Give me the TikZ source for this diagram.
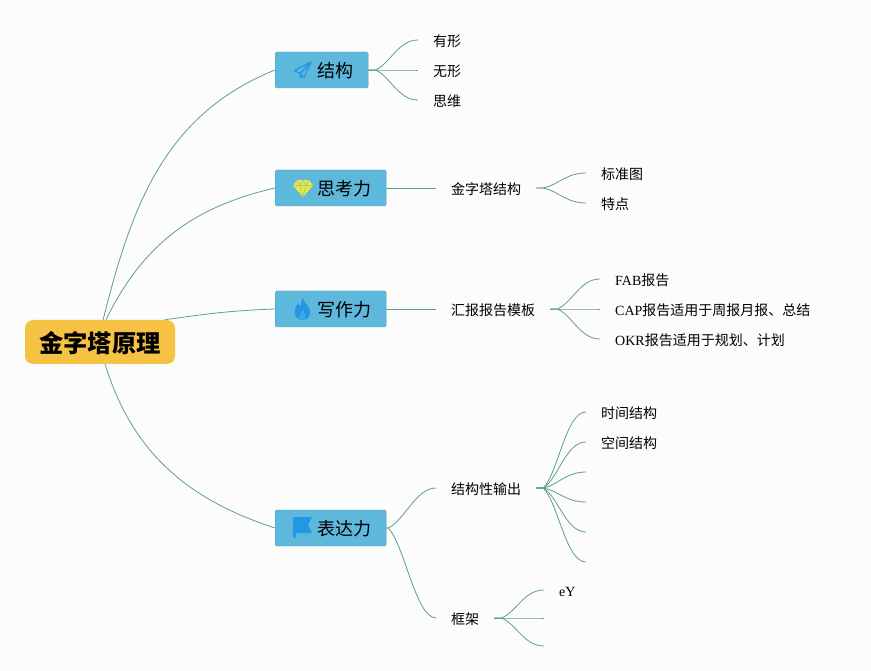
\documentclass[tikz,border=0pt]{standalone}
\usepackage{fontspec}
\setmainfont{Liberation Serif}
\newfontfamily\cjk{Noto Sans CJK SC}
\usepackage{xcolor}
\usetikzlibrary{calc}
\usetikzlibrary{positioning}
\definecolor{rootfill}{HTML}{F6C244}
\definecolor{boxfill}{HTML}{5DB8DC}
\definecolor{boxline}{HTML}{4E9FA8}
\definecolor{linkcol}{HTML}{5F9F8E}
\definecolor{iconblue}{HTML}{2298E4}
\definecolor{iconyellow}{HTML}{EDE83C}
\definecolor{paper}{HTML}{FCFCFC}
\tikzset{>=latex}
\tikzstyle{root} = [rectangle, rounded corners=8, fill=rootfill, minimum width=150, minimum height=44, inner sep=0, text height=26, text depth=5.6, font=\cjk\fontsize{24.3}{24}\selectfont\bfseries]
\tikzstyle{branch} = [rectangle, rounded corners=1.5, draw=boxline, fill=boxfill, anchor=west, minimum height=36, inner xsep=15, inner ysep=0, text height=18.8, text depth=3, font=\cjk\fontsize{18}{18}\selectfont]
\tikzstyle{topic} = [draw=none, anchor=west, inner xsep=15, inner ysep=2, text height=15.6, text depth=3, font=\cjk\fontsize{14}{14}\selectfont]
\tikzstyle{link} = [-, draw=linkcol, line width=0.8]
\tikzset{fan/.style={link, to path={-- ($(\tikztostart)+(#1,0)$) coordinate (fanstart) .. controls ($(fanstart)!.35!($(\tikztotarget)!.4!(\tikztotarget |- fanstart)$)$) and ($(\tikztotarget)+(-20,0)$) .. (\tikztotarget)}}, fan/.default=7}
\newcommand{\lat}[1]{{\rmfamily #1}}
\newcommand{\gap}{\hspace*{27pt}}

\begin{document}
\begin{tikzpicture}[x=1pt, y=-1pt]
\useasboundingbox (0,0) rectangle (871,671);
\fill [paper] (0,0) rectangle (871,671);
% root and branches
\node [root] (R) at (100, 342) {金字塔原理};
\node [branch] (B1) at (275, 70) {\gap 结构};
\node [branch] (B2) at (275, 188) {\gap 思考力};
\node [branch] (B3) at (275, 309) {\gap 写作力};
\node [branch] (B4) at (275, 528) {\gap 表达力};
\draw [link] (R.82) to [out=76, in=202] (B1.west);
\draw [link] (R.75) to [out=64, in=193] (B2.west);
\draw [link] (R.19) to [out=8, in=182] (B3.west);
\draw [link] (R.-77) to [out=-73, in=162] (B4.west);
% first branch
\node [topic] (A1) at (418, 40) {有形};
\node [topic] (A2) at (418, 70) {无形};
\node [topic] (A3) at (418, 100) {思维};
\foreach \leaf in {A1, A2, A3} \draw [fan] (B1.east) to (\leaf.west);
% second branch
\node [topic] (C) at (436, 188) {金字塔结构};
\node [topic] (C1) at (586, 173) {标准图};
\node [topic] (C2) at (586, 203) {特点};
\draw [link] (B2.east) to (C.west);
\foreach \leaf in {C1, C2} \draw [fan] (C.east) to (\leaf.west);
% third branch
\node [topic] (D) at (436, 309) {汇报报告模板};
\node [topic] (D1) at (600, 279) {\lat{FAB}报告};
\node [topic] (D2) at (600, 309) {\lat{CAP}报告适用于周报月报、总结};
\node [topic] (D3) at (600, 339) {\lat{OKR}报告适用于规划、计划};
\draw [link] (B3.east) to (D.west);
\foreach \leaf in {D1, D2, D3} \draw [fan] (D.east) to (\leaf.west);
% fourth branch
\node [topic] (E) at (436, 488) {结构性输出};
\node [topic] (F) at (436, 618) {框架};
\draw [fan=2] (B4.east) to (E.west);
\draw [fan=2] (B4.east) to (F.west);
\node [topic] (E1) at (586, 412) {时间结构};
\node [topic] (E2) at (586, 442) {空间结构};
\coordinate (E3) at (586, 472);
\coordinate (E4) at (586, 502);
\coordinate (E5) at (586, 532);
\coordinate (E6) at (586, 562);
\foreach \leaf in {E1.west, E2.west, E3, E4, E5, E6} \draw [fan] (E.east) to (\leaf);
\node [topic] (F1) at (544, 590) {\lat{eY}};
\coordinate (F2) at (544, 618);
\coordinate (F3) at (544, 646);
\foreach \leaf in {F1.west, F2, F3} \draw [fan] (F.east) to (\leaf);
% icons
\draw [iconblue, line width=1.3, line join=round] (311,62) -- (294.5,70.5) -- (300,73.5) -- (304,77.5) -- cycle;
\draw [iconblue, line width=1.3, line join=round] (311,62) -- (300,73.5) -- (300.5,78) -- (303,75.5);
\fill [iconyellow] (297,180) -- (309,180) -- (313,185.5) -- (303,197) -- (293,185.5) -- cycle;
\draw [boxfill!60!iconyellow, line width=0.7] (293,185.5) -- (313,185.5) (297,180) -- (300,185.5) -- (303,197) -- (306,185.5) -- (309,180) (300,185.5) -- (303,180) -- (306,185.5);
\fill [iconblue] (303,298) .. controls (304,303) and (307,304) .. (309,308) .. controls (312,313) and (309,320) .. (303,320) .. controls (297,320) and (293,315) .. (295,309) .. controls (296,306) and (297,305) .. (298,303) .. controls (299,305) and (300,306) .. (301,306) .. controls (301,303) and (301,301) .. (303,298) -- cycle;
\fill [iconblue!55!boxfill] (303,310) .. controls (304,313) and (307,314) .. (306,317) .. controls (305,320) and (300,320) .. (299,317) .. controls (299,315) and (302,313) .. (303,310) -- cycle;
\fill [iconblue] (293,517) -- (312,517) -- (308,525) -- (312,533) -- (295.5,533) -- (295.5,538) -- (293,538) -- cycle;
\end{tikzpicture}
\end{document}
